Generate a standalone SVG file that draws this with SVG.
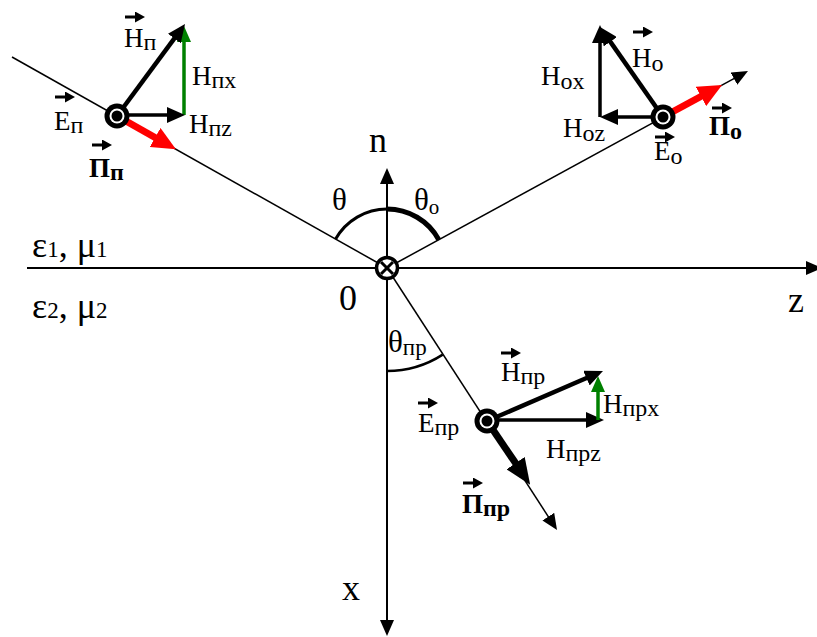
<svg xmlns="http://www.w3.org/2000/svg" width="817" height="637" viewBox="0 0 817 637">
<style>
text{font-family:"Liberation Serif","Times New Roman",serif;fill:#000}
.lb{font-size:27px}
.sb{font-size:24px}
.bd{font-weight:bold}
.ax{font-size:36px}
.th{font-size:31px}
.ray{stroke:#000;stroke-width:1.5;fill:none}
.axis{stroke:#000;stroke-width:2;fill:none}
.vec{stroke:#000;stroke-width:4.5;fill:none}
.comp{stroke:#000;stroke-width:3.5;fill:none}
.grn{stroke:#008000;stroke-width:3.5;fill:none}
.red{stroke:#ff0000;stroke-width:7;fill:none}
.pb{stroke:#000;stroke-width:7;fill:none}
.ov{stroke:#000;stroke-width:3;fill:none}
.arc{stroke:#000;fill:none}
</style>
<defs>
<marker id="arr" markerUnits="userSpaceOnUse" markerWidth="16" markerHeight="14" refX="2" refY="7" orient="auto-start-reverse"><path d="M0,0 L16,7 L0,14 z" fill="#000"/></marker>
<marker id="arrV" markerUnits="userSpaceOnUse" markerWidth="18" markerHeight="16" refX="2" refY="8" orient="auto"><path d="M0,0 L18,8 L0,16 z" fill="#000"/></marker>
<marker id="arrG" markerUnits="userSpaceOnUse" markerWidth="16" markerHeight="14" refX="2" refY="7" orient="auto"><path d="M0,0 L16,7 L0,14 z" fill="#008000"/></marker>
<marker id="arrR" markerUnits="userSpaceOnUse" markerWidth="24" markerHeight="22" refX="2" refY="11" orient="auto"><path d="M0,0 L24,11 L0,22 z" fill="#ff0000"/></marker>
<marker id="arrP" markerUnits="userSpaceOnUse" markerWidth="26" markerHeight="22" refX="2" refY="11" orient="auto"><path d="M0,0 L26,11 L0,22 z" fill="#000"/></marker>
<marker id="arrS" markerUnits="userSpaceOnUse" markerWidth="10" markerHeight="11" refX="1" refY="5.5" orient="auto"><path d="M0,0 L10,5.5 L0,11 z" fill="#000"/></marker>
<g id="dot"><circle r="12.5" fill="#000"/><circle r="7.5" fill="#fff"/><circle r="5.5" fill="#000"/></g>
</defs>
<rect width="817" height="637" fill="#fff"/>

<g id="connectors">
  <line class="axis" x1="27" y1="268" x2="808" y2="268" marker-end="url(#arr)"/>
  <line class="axis" x1="387" y1="182" x2="387" y2="622" marker-start="url(#arr)" marker-end="url(#arr)"/>
  <line class="ray" x1="12" y1="57" x2="387" y2="268"/>
  <line class="ray" x1="387" y1="268" x2="735.7" y2="77.7" marker-end="url(#arr)"/>
  <line class="ray" x1="387" y1="268" x2="549.4" y2="518.3" marker-end="url(#arr)"/>
  <path class="arc" stroke-width="3" d="M335.6,239.1 A59,59 0 0 1 387,209"/>
  <path class="arc" stroke-width="5" d="M387,209 A59,59 0 0 1 438.8,239.7"/>
  <path class="arc" stroke-width="2.5" d="M387,371 A103,103 0 0 0 442.7,354.6"/>
</g>

<g id="origin">
  <circle cx="387" cy="268" r="10.5" fill="#fff" stroke="#000" stroke-width="3.5"/>
  <line x1="381" y1="262" x2="393" y2="274" stroke="#000" stroke-width="3"/>
  <line x1="381" y1="274" x2="393" y2="262" stroke="#000" stroke-width="3"/>
</g>

<g id="labels">
  <text class="ax" x="369" y="152">n</text>
  <text class="ax" x="339" y="310">0</text>
  <text class="ax" x="788" y="312">z</text>
  <text class="ax" x="342" y="600">x</text>
  <text class="th" x="332" y="210">θ</text>
  <text class="th" x="414" y="210">θ<tspan font-size="21" dy="4">o</tspan></text>
  <text class="th" x="388" y="352">θ<tspan font-size="23" dy="3">пр</tspan></text>
  <text class="ax" x="32" y="257">ε<tspan font-size="23">1</tspan><tspan>, μ</tspan><tspan font-size="23">1</tspan></text>
  <text class="ax" x="32" y="318">ε<tspan font-size="23">2</tspan><tspan>, μ</tspan><tspan font-size="23">2</tspan></text>
</g>

<g id="incident-wave">
  <line class="red" x1="117" y1="116" x2="156.8" y2="138.5" marker-end="url(#arrR)"/>
  <line class="grn" x1="184" y1="115" x2="184" y2="40" marker-end="url(#arrG)"/>
  <line class="comp" x1="117" y1="115" x2="169" y2="115" marker-end="url(#arrV)"/>
  <line class="vec" x1="117" y1="116" x2="175.5" y2="36.9" marker-end="url(#arrV)"/>
  <use href="#dot" x="117" y="116"/>
  <line class="ov" x1="125" y1="17" x2="136" y2="17" marker-end="url(#arrS)"/>
  <text class="lb" x="124" y="47">H<tspan class="sb" dy="3">п</tspan></text>
  <text class="lb" x="192" y="85">H<tspan class="sb" dy="3">пx</tspan></text>
  <text class="lb" x="189" y="133">H<tspan class="sb" dy="3">пz</tspan></text>
  <line class="ov" x1="55" y1="97" x2="66" y2="97" marker-end="url(#arrS)"/>
  <text class="lb" x="54" y="130">E<tspan class="sb" dy="3">п</tspan></text>
  <line class="ov" x1="92" y1="145" x2="103" y2="145" marker-end="url(#arrS)"/>
  <text class="lb bd" x="89" y="177">П<tspan class="sb" dy="3">п</tspan></text>
</g>

<g id="reflected-wave">
  <line class="red" x1="663" y1="117" x2="702.7" y2="95.5" marker-end="url(#arrR)"/>
  <line class="comp" x1="600" y1="117" x2="600" y2="41" marker-end="url(#arrV)"/>
  <line class="comp" x1="663" y1="117" x2="616" y2="117" marker-end="url(#arrV)"/>
  <line class="vec" x1="663" y1="117" x2="609.2" y2="40.1" marker-end="url(#arrV)"/>
  <use href="#dot" x="663" y="117"/>
  <line class="ov" x1="633" y1="32" x2="644" y2="32" marker-end="url(#arrS)"/>
  <text class="lb" x="632" y="67">H<tspan class="sb" dy="4">o</tspan></text>
  <text class="lb" x="541" y="85">H<tspan class="sb" dy="4">ox</tspan></text>
  <text class="lb" x="563" y="137">H<tspan class="sb" dy="4">oz</tspan></text>
  <line class="ov" x1="655" y1="137" x2="666" y2="137" marker-end="url(#arrS)"/>
  <text class="lb" x="654" y="160">E<tspan class="sb" dy="4">o</tspan></text>
  <line class="ov" x1="712" y1="108" x2="723" y2="108" marker-end="url(#arrS)"/>
  <text class="lb bd" x="709" y="135">П<tspan class="sb" dy="4">o</tspan></text>
</g>

<g id="refracted-wave">
  <line class="pb" x1="487" y1="421" x2="516.7" y2="464.8" marker-end="url(#arrP)"/>
  <line class="comp" x1="487" y1="420" x2="588" y2="420" marker-end="url(#arrV)"/>
  <line class="grn" x1="598" y1="420" x2="598" y2="390" marker-end="url(#arrG)"/>
  <line class="vec" x1="487" y1="421" x2="588.3" y2="377.3" marker-end="url(#arrV)"/>
  <use href="#dot" x="487" y="421"/>
  <line class="ov" x1="501" y1="353" x2="512" y2="353" marker-end="url(#arrS)"/>
  <text class="lb" x="501" y="381">H<tspan class="sb" dy="3">пр</tspan></text>
  <text class="lb" x="603" y="413">H<tspan class="sb" dy="3">прx</tspan></text>
  <text class="lb" x="546" y="458">H<tspan class="sb" dy="3">прz</tspan></text>
  <line class="ov" x1="418" y1="403" x2="429" y2="403" marker-end="url(#arrS)"/>
  <text class="lb" x="418" y="432">E<tspan class="sb" dy="3">пр</tspan></text>
  <line class="ov" x1="463" y1="483" x2="474" y2="483" marker-end="url(#arrS)"/>
  <text class="lb bd" x="462" y="513">П<tspan class="sb" dy="3">пр</tspan></text>
</g>
</svg>
